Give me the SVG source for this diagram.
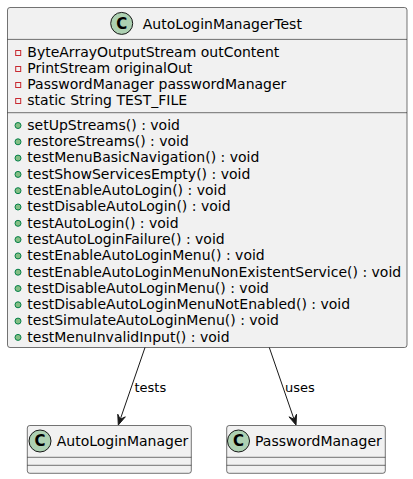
<svg xmlns="http://www.w3.org/2000/svg" width="413" height="479" viewBox="0 0 413 479">
<defs>
<style>
.box{fill:#F1F1F1;stroke:#181818;stroke-width:0.6}
.sep{stroke:#181818;stroke-width:0.6}
.spot{fill:#ADD1B2;stroke:#181818;stroke-width:1}
.spotC{font-family:"DejaVu Sans",sans-serif;font-size:15px;font-weight:bold;fill:#000;text-anchor:middle}
.name{font-family:"DejaVu Sans",sans-serif;font-size:14px;fill:#000}
.mem{font-family:"DejaVu Sans",sans-serif;font-size:14px;fill:#000}
.priv{fill:none;stroke:#C82930;stroke-width:1}
.pub{fill:#84BE84;stroke:#038048;stroke-width:1}
.lbl{font-family:"DejaVu Sans",sans-serif;font-size:13px;fill:#000}
.edge{stroke:#181818;stroke-width:1;fill:none}
.head{fill:#181818;stroke:#181818;stroke-width:1}
</style>
</defs>
<g id="AutoLoginManagerTest">
<rect class="box" x="7.5" y="7.5" width="399.5" height="340" rx="2.5"/>
<circle class="spot" cx="121.7" cy="23.4" r="11"/>
<text class="spotC" x="121.7" y="28.8">C</text>
<text class="name" x="142.7" y="28.5">AutoLoginManagerTest</text>
<line class="sep" x1="7.5" y1="39.4" x2="407" y2="39.4"/>
<rect class="priv" x="15.7" y="50.5" width="5" height="5"/>
<text class="mem" x="27.3" y="57">ByteArrayOutputStream outContent</text>
<rect class="priv" x="15.7" y="66.5" width="5" height="5"/>
<text class="mem" x="27.3" y="73">PrintStream originalOut</text>
<rect class="priv" x="15.7" y="82.5" width="5" height="5"/>
<text class="mem" x="27.3" y="89">PasswordManager passwordManager</text>
<rect class="priv" x="15.7" y="98.5" width="5" height="5"/>
<text class="mem" x="27.3" y="105">static String TEST_FILE</text>
<line class="sep" x1="7.5" y1="112.7" x2="407" y2="112.7"/>
<circle class="pub" cx="18" cy="125.5" r="3"/>
<text class="mem" x="27.3" y="129.8">setUpStreams() : void</text>
<circle class="pub" cx="18" cy="141.8" r="3"/>
<text class="mem" x="27.3" y="146.1">restoreStreams() : void</text>
<circle class="pub" cx="18" cy="158.1" r="3"/>
<text class="mem" x="27.3" y="162.4">testMenuBasicNavigation() : void</text>
<circle class="pub" cx="18" cy="174.4" r="3"/>
<text class="mem" x="27.3" y="178.7">testShowServicesEmpty() : void</text>
<circle class="pub" cx="18" cy="190.7" r="3"/>
<text class="mem" x="27.3" y="195">testEnableAutoLogin() : void</text>
<circle class="pub" cx="18" cy="207" r="3"/>
<text class="mem" x="27.3" y="211.3">testDisableAutoLogin() : void</text>
<circle class="pub" cx="18" cy="223.3" r="3"/>
<text class="mem" x="27.3" y="227.6">testAutoLogin() : void</text>
<circle class="pub" cx="18" cy="239.6" r="3"/>
<text class="mem" x="27.3" y="243.9">testAutoLoginFailure() : void</text>
<circle class="pub" cx="18" cy="255.9" r="3"/>
<text class="mem" x="27.3" y="260.2">testEnableAutoLoginMenu() : void</text>
<circle class="pub" cx="18" cy="272.2" r="3"/>
<text class="mem" x="27.3" y="276.5">testEnableAutoLoginMenuNonExistentService() : void</text>
<circle class="pub" cx="18" cy="288.5" r="3"/>
<text class="mem" x="27.3" y="292.8">testDisableAutoLoginMenu() : void</text>
<circle class="pub" cx="18" cy="304.8" r="3"/>
<text class="mem" x="27.3" y="309.1">testDisableAutoLoginMenuNotEnabled() : void</text>
<circle class="pub" cx="18" cy="321.1" r="3"/>
<text class="mem" x="27.3" y="325.4">testSimulateAutoLoginMenu() : void</text>
<circle class="pub" cx="18" cy="337.4" r="3"/>
<text class="mem" x="27.3" y="341.7">testMenuInvalidInput() : void</text>
</g>
<g id="AutoLoginManager">
<rect class="box" x="27.3" y="425.5" width="164" height="47.8" rx="2.5"/>
<circle class="spot" cx="40" cy="441" r="11"/>
<text class="spotC" x="40" y="446.4">C</text>
<text class="name" x="56.7" y="446">AutoLoginManager</text>
<line class="sep" x1="27.3" y1="457.3" x2="191.3" y2="457.3"/>
<line class="sep" x1="27.3" y1="465.3" x2="191.3" y2="465.3"/>
</g>
<g id="PasswordManager">
<rect class="box" x="226.7" y="425.5" width="158.6" height="47.8" rx="2.5"/>
<circle class="spot" cx="238.5" cy="441" r="11"/>
<text class="spotC" x="238.5" y="446.4">C</text>
<text class="name" x="255" y="446">PasswordManager</text>
<line class="sep" x1="226.7" y1="457.3" x2="385.3" y2="457.3"/>
<line class="sep" x1="226.7" y1="465.3" x2="385.3" y2="465.3"/>
</g>
<g id="connectors">
<path class="edge" d="M145,347.5 L120.25,419.33"/>
<polygon class="head" points="118.3,425 125.34,416.85 120.25,419.33 117.78,414.25"/>
<text class="lbl" x="134.5" y="391.5">tests</text>
<path class="edge" d="M269.3,347.5 L294.05,419.33"/>
<polygon class="head" points="296,425 296.52,414.25 294.05,419.33 288.96,416.85"/>
<text class="lbl" x="285" y="391.5">uses</text>
</g>
</svg>
